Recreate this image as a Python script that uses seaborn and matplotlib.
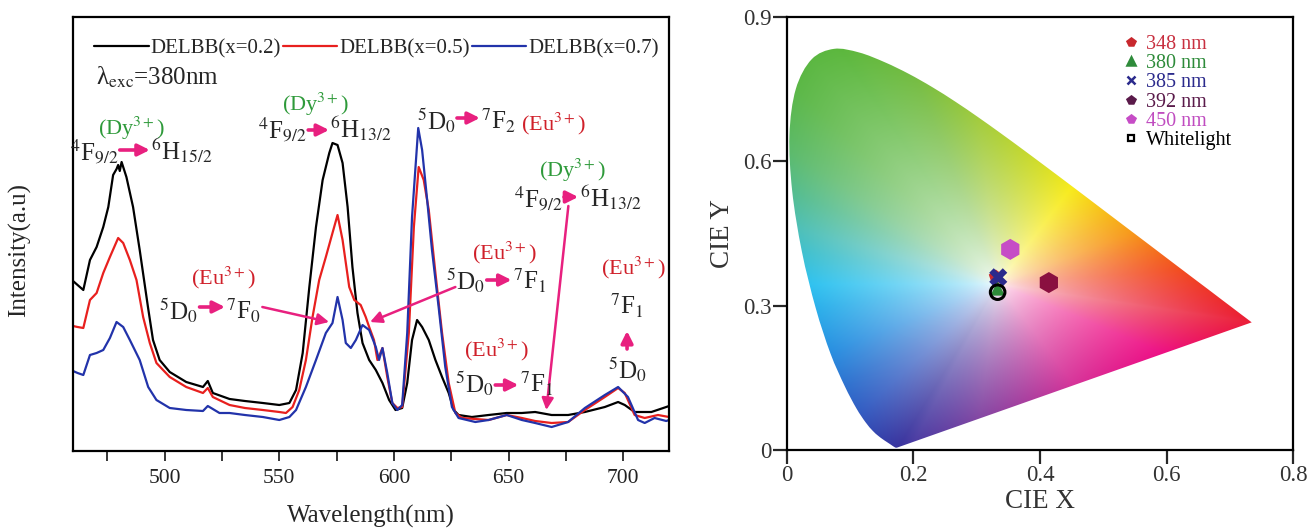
import numpy as np
import pandas as pd
import matplotlib
matplotlib.use("Agg")
import matplotlib.pyplot as plt
import seaborn as sns
from matplotlib.lines import Line2D
from matplotlib.patches import PathPatch
from matplotlib.path import Path

# ---------------- data: emission spectra (a.u.) ----------------
black_wl = [460, 462, 464.5, 467.4, 470.3, 473.2, 475.4, 477.5, 479, 479.7, 480.4, 481.2, 483.3, 486.2,
            489.1, 492.7, 494.9, 497.8, 502.2, 509.4, 516.7, 518.8, 521, 528.3, 535, 542.8, 550, 554.4,
            557.3, 560.2, 563.1, 566, 568.9, 571.8, 573.2, 575.4, 577.6, 579.8, 581.9, 584.1, 586.3,
            589.2, 592.1, 595, 597.9, 600.7, 603.6, 605.8, 607.9, 610.1, 612.3, 615.2, 618.1, 621,
            623.9, 626.1, 628.2, 634, 641.3, 649.2, 655.8, 661.6, 668.8, 676, 683.3, 692, 697.8, 700.7,
            705, 712.3, 718.8, 720]
black_I = [170, 166, 161, 191, 204, 224, 244, 276, 282, 286, 280, 289, 274, 244,
           201, 144, 111, 91, 79, 69, 64, 70, 58, 52, 50, 48, 46, 48,
           61, 98, 164, 224, 271, 298, 308, 306, 288, 244, 184, 138, 108,
           91, 81, 68, 51, 41, 43, 68, 111, 131, 124, 111, 91, 74,
           58, 41, 36, 34, 36, 38, 38, 39, 36, 36, 39, 44, 49, 46,
           39, 39, 44, 45]

red_wl = [460, 462, 464.5, 467.4, 470.3, 473.2, 476.1, 479.7, 481.9, 484.8, 487.7, 490.6, 493.5, 496.4,
          502.2, 509.4, 516.7, 518.8, 521, 528.3, 535, 542.8, 550, 552.9, 555.8, 558.7, 561.6, 564.5,
          567.4, 570.3, 573.2, 575.4, 577.6, 580.5, 582.7, 585.5, 587.7, 589.2, 591.3, 592.8, 595,
          597.1, 599.3, 601.5, 603.6, 606.5, 608.7, 610.8, 613, 615.2, 618.1, 621, 623.9, 626.8,
          629.7, 641.3, 649.2, 655.8, 661.6, 668.8, 676, 683.3, 692, 697.8, 700.7, 705, 709.4, 715.2, 720]
red_I = [125, 124, 123, 151, 158, 178, 194, 213, 208, 191, 171, 134, 108, 88,
         74, 64, 58, 63, 54, 46, 43, 41, 39, 38, 44, 61, 91, 134,
         171, 194, 218, 236, 211, 164, 151, 146, 134, 124, 111, 91, 103,
         74, 48, 43, 44, 118, 224, 284, 271, 241, 178, 118, 68, 38,
         33, 31, 36, 33, 30, 28, 29, 41, 54, 63, 58, 36, 33, 36, 34]

blue_wl = [460, 462, 464.5, 467.4, 470.3, 473.2, 476.1, 479, 481.9, 484.8, 489.1, 492.8, 496.4, 502.2,
           509.4, 516.7, 518.8, 523.9, 528.3, 535, 542.8, 550, 554.4, 557.3, 561.6, 566, 570.3, 573.2,
           575.4, 577.6, 579, 581.2, 583.4, 586.3, 589.2, 592.1, 593.5, 595, 597.1, 599.3, 601.5,
           603.6, 605.8, 607.9, 610.6, 612.3, 614.5, 616.6, 619.5, 622.4, 625.3, 628.2, 635.5, 641.3,
           649.2, 655.8, 661.6, 668.8, 676, 683.3, 692, 697.8, 702.1, 706.5, 709.4, 713.7, 718.8, 720]
blue_I = [80, 78, 76, 96, 98, 101, 113, 129, 124, 111, 91, 64, 51, 43,
          41, 40, 45, 38, 38, 36, 34, 31, 34, 41, 64, 91, 118, 128,
          154, 131, 108, 103, 111, 126, 121, 104, 91, 103, 78, 48, 41,
          46, 118, 234, 323, 301, 251, 201, 144, 84, 44, 33, 29, 31,
          36, 31, 28, 24, 29, 43, 56, 64, 54, 31, 28, 33, 30, 31]

series_labels = ["DELBB(x=0.2)", "DELBB(x=0.5)", "DELBB(x=0.7)"]

# ---------------- data: CIE 1931 spectral locus (380-700 nm) ----------------
locus_x = [0.1741, 0.1740, 0.1738, 0.1736, 0.1733, 0.1730, 0.1726, 0.1721, 0.1714, 0.1703, 0.1689,
           0.1669, 0.1644, 0.1611, 0.1566, 0.1510, 0.1440, 0.1355, 0.1241, 0.1096, 0.0913, 0.0687,
           0.0454, 0.0235, 0.0082, 0.0039, 0.0139, 0.0389, 0.0743, 0.1142, 0.1547, 0.1929, 0.2296,
           0.2658, 0.3016, 0.3373, 0.3731, 0.4087, 0.4441, 0.4788, 0.5125, 0.5448, 0.5752, 0.6029,
           0.6270, 0.6482, 0.6658, 0.6801, 0.6915, 0.7006, 0.7079, 0.7140, 0.7190, 0.7230, 0.7260,
           0.7283, 0.7300, 0.7311, 0.7320, 0.7327, 0.7334, 0.7344, 0.7347]
locus_y = [0.0050, 0.0050, 0.0049, 0.0049, 0.0048, 0.0048, 0.0048, 0.0048, 0.0051, 0.0058, 0.0069,
           0.0086, 0.0109, 0.0138, 0.0177, 0.0227, 0.0297, 0.0399, 0.0578, 0.0868, 0.1327, 0.2007,
           0.2950, 0.4127, 0.5384, 0.6548, 0.7502, 0.8120, 0.8338, 0.8262, 0.8059, 0.7816, 0.7543,
           0.7243, 0.6923, 0.6589, 0.6245, 0.5896, 0.5547, 0.5202, 0.4866, 0.4544, 0.4242, 0.3965,
           0.3725, 0.3514, 0.3340, 0.3197, 0.3083, 0.2993, 0.2920, 0.2859, 0.2809, 0.2770, 0.2740,
           0.2717, 0.2700, 0.2689, 0.2680, 0.2673, 0.2666, 0.2656, 0.2653]

# ---------------- data: chromaticity points ----------------
cie_labels = ["348 nm", "380 nm", "385 nm", "392 nm", "450 nm", "Whitelight"]
cie_x = [0.330, 0.333, 0.334, 0.414, 0.353, 0.333]
cie_y = [0.360, 0.336, 0.359, 0.348, 0.417, 0.328]

# edge colours of the printed diagram, by direction (deg) seen from the white point
edge_angle = [-180, -152, -129, -115, -112, -96, -60, -29, -10, 6, 27, 60, 95, 107, 117, 128, 140, 160, 180]
edge_rgb = [(0.18, 0.76, 0.94), (0.16, 0.56, 0.88), (0.20, 0.36, 0.76), (0.22, 0.20, 0.62),
            (0.30, 0.24, 0.64), (0.52, 0.28, 0.64), (0.84, 0.20, 0.60), (0.93, 0.06, 0.52),
            (0.92, 0.12, 0.20), (0.95, 0.30, 0.12), (0.97, 0.60, 0.10), (0.97, 0.92, 0.10),
            (0.64, 0.80, 0.24), (0.46, 0.74, 0.26), (0.36, 0.72, 0.24), (0.36, 0.72, 0.28),
            (0.36, 0.73, 0.42), (0.30, 0.75, 0.72), (0.18, 0.76, 0.94)]

# ---------------- style ----------------
sns.set_style("ticks")
plt.rcParams["font.family"] = ["Liberation Serif", "DejaVu Serif"]
plt.rcParams["mathtext.fontset"] = "stix"
plt.rcParams["axes.linewidth"] = 1.6

MAG = "#E8207F"
GREEN = "#2E9A3A"
EURED = "#D0202A"

fig = plt.figure(figsize=(13.11, 5.28), dpi=100)
ax = fig.add_axes([73 / 1311, 77 / 528, 596 / 1311, 434 / 528])
ax2 = fig.add_axes([787 / 1311, 78 / 528, 506 / 1311, 433 / 528])

# ---------------- left: spectra ----------------
sns.lineplot(x=black_wl, y=black_I, color="black", lw=1.6, ax=ax, label=series_labels[0], sort=False)
sns.lineplot(x=red_wl, y=red_I, color="#E8201E", lw=1.6, ax=ax, label=series_labels[1], sort=False)
sns.lineplot(x=blue_wl, y=blue_I, color="#2233AA", lw=1.6, ax=ax, label=series_labels[2], sort=False)

ax.set_xlim(460, 720)
ax.set_ylim(0, 434)
ax.set_yticks([])
ax.set_xticks([500, 550, 600, 650, 700])
ax.set_xticks([475, 525, 575, 625, 675], minor=True)
ax.tick_params(axis="x", which="both", direction="out", length=7, width=1.3, labelsize=15.5,
               labelcolor="#222222", pad=6)
for s in ax.spines.values():
    s.set_visible(True)
    s.set_color("black")
ax.set_xlabel("Wavelength(nm)", fontsize=18, labelpad=12)
ax.set_ylabel("Intensity(a.u)", fontsize=18)
ax.yaxis.set_label_coords(-0.07, 0.463)

leg = ax.legend(loc="upper left", bbox_to_anchor=(0.036, 0.95), ncol=3, frameon=False, fontsize=15,
                handlelength=2.6, handletextpad=0.1, columnspacing=0.1, borderpad=0, borderaxespad=0)

ax.text(470, 366, "λ$_{\\mathrm{exc}}$=380nm", fontsize=18, ha="left", va="baseline")

TFS = 18
AW = dict(arrowstyle="-|>,head_length=0.5,head_width=0.25", color=MAG, lw=2.6, shrinkA=0, shrinkB=0,
          mutation_scale=14)
LW = dict(arrowstyle="-|>,head_length=0.5,head_width=0.25", color=MAG, lw=1.8, shrinkA=0, shrinkB=0,
          mutation_scale=14)


def transition(left, right, xa, xb, ya, yb, gap=0.6):
    ax.text(xa - gap, yb, left, ha="right", va="baseline", fontsize=TFS)
    ax.annotate("", xy=(xb, ya), xytext=(xa, ya), arrowprops=AW)
    ax.text(xb + gap, yb, right, ha="left", va="baseline", fontsize=TFS)


# first Dy peak
ax.text(485.5, 323, r"(Dy$^{3+}$)", color=GREEN, fontsize=16, ha="center", va="center")
transition(r"$^{4}$F$_{9/2}$", r"$^{6}$H$_{15/2}$", 480.4, 493.5, 301, 291)
# second Dy peak
ax.text(566, 347, r"(Dy$^{3+}$)", color=GREEN, fontsize=16, ha="center", va="center")
transition(r"$^{4}$F$_{9/2}$", r"$^{6}$H$_{13/2}$", 562.6, 571.7, 321, 313)
# Eu 5D0-7F2
transition(r"$^{5}$D$_{0}$", r"$^{7}$F$_{2}$", 627.5, 637.5, 333, 321)
ax.text(655.5, 321, r"(Eu$^{3+}$)", color=EURED, fontsize=16, ha="left", va="baseline")
# right Dy
ax.text(677.8, 281, r"(Dy$^{3+}$)", color=GREEN, fontsize=16, ha="center", va="center")
transition(r"$^{4}$F$_{9/2}$", r"$^{6}$H$_{13/2}$", 674.2, 680.4, 254, 244)
ax.annotate("", xy=(666.5, 41), xytext=(676.1, 245), arrowprops=LW)
# Eu 5D0-7F0
ax.text(525.7, 173, r"(Eu$^{3+}$)", color=EURED, fontsize=16, ha="center", va="center")
transition(r"$^{5}$D$_{0}$", r"$^{7}$F$_{0}$", 515.2, 526.3, 144, 131)
ax.annotate("", xy=(571.7, 129), xytext=(542.6, 144), arrowprops=LW)
# Eu 5D0-7F1 (upper)
ax.text(648.3, 198, r"(Eu$^{3+}$)", color=EURED, fontsize=16, ha="center", va="center")
transition(r"$^{5}$D$_{0}$", r"$^{7}$F$_{1}$", 640.5, 651.3, 171, 161)
ax.annotate("", xy=(589.6, 129), xytext=(626.8, 164), arrowprops=LW)
# Eu 5D0-7F1 (lower)
ax.text(644.8, 101, r"(Eu$^{3+}$)", color=EURED, fontsize=16, ha="center", va="center")
transition(r"$^{5}$D$_{0}$", r"$^{7}$F$_{1}$", 644.2, 654.3, 66, 58)
# Eu vertical
ax.text(704.3, 183, r"(Eu$^{3+}$)", color=EURED, fontsize=16, ha="center", va="center")
ax.text(701.7, 136, r"$^{7}$F$_{1}$", fontsize=TFS, ha="center", va="baseline")
ax.annotate("", xy=(701.7, 120), xytext=(701.7, 102), arrowprops=AW)
ax.text(701.7, 72, r"$^{5}$D$_{0}$", fontsize=TFS, ha="center", va="baseline")

# ---------------- right: CIE diagram ----------------
P = np.column_stack([locus_x, locus_y])
n = len(P)
wx, wy = 0.333, 0.345

# boundary radius as a function of direction from the white point
line_t = np.linspace(0, 1, 80)[1:-1]
purple = P[-1] + (P[0] - P[-1]) * line_t[:, None]
bnd = np.vstack([P, purple])
b_ang = np.degrees(np.arctan2(bnd[:, 1] - wy, bnd[:, 0] - wx))
b_rad = np.hypot(bnd[:, 0] - wx, bnd[:, 1] - wy)
order = np.argsort(b_ang)
b_ang, b_rad = b_ang[order], b_rad[order]

gx = np.linspace(0, 0.8, 800)
gy = np.linspace(0, 0.9, 900)
XX, YY = np.meshgrid(gx, gy)
ang = np.degrees(np.arctan2(YY - wy, XX - wx))
rad = np.hypot(XX - wx, YY - wy)
rb = np.interp(ang, b_ang, b_rad, period=360)
frac = np.clip(rad / rb, 0, 1)
w = frac ** 0.62
er = np.array(edge_rgb)
edge = np.stack([np.interp(ang, edge_angle, er[:, c]) for c in range(3)], axis=-1)
rgb = 1 - w[..., None] * (1 - edge)
rgb = np.clip(rgb, 0, 1)

im = ax2.imshow(rgb, extent=[0, 0.8, 0, 0.9], origin="lower", aspect="auto",
                interpolation="bilinear", zorder=1)

# smooth closed outline through the locus points (Catmull-Rom as cubic Bezier), straight purple line
verts = [P[0]]
codes = [Path.MOVETO]
for i in range(n - 1):
    p0 = P[max(i - 1, 0)]
    p1 = P[i]
    p2 = P[i + 1]
    p3 = P[min(i + 2, n - 1)]
    verts += [p1 + (p2 - p0) / 6, p2 - (p3 - p1) / 6, p2]
    codes += [Path.CURVE4] * 3
verts += [P[0], P[0]]
codes += [Path.LINETO, Path.CLOSEPOLY]
outline = PathPatch(Path(verts, codes), transform=ax2.transData, facecolor="none", edgecolor="none")
ax2.add_patch(outline)
im.set_clip_path(outline)

styles = {
    "348 nm": dict(marker="p", color="#C8282E", s=110),
    "380 nm": dict(marker="^", color="#2E8B3A", s=110),
    "385 nm": dict(marker="X", color="#2B2A8C", s=170),
    "392 nm": dict(marker="h", color="#8A1040", s=230),
    "450 nm": dict(marker="h", color="#C64CC6", s=230),
}
for lab, xv, yv in zip(cie_labels, cie_x, cie_y):
    if lab == "Whitelight":
        sns.scatterplot(x=[xv], y=[yv], ax=ax2, marker="o", s=110, facecolors="none", edgecolor="black",
                        linewidth=2.2, zorder=5)
    else:
        st = styles[lab]
        sns.scatterplot(x=[xv], y=[yv], ax=ax2, marker=st["marker"], s=st["s"], color=st["color"],
                        edgecolor="none", zorder=4)

ax2.set_xlim(0, 0.8)
ax2.set_ylim(0, 0.9)
ax2.set_xticks([0, 0.2, 0.4, 0.6, 0.8])
ax2.set_xticklabels(["0", "0.2", "0.4", "0.6", "0.8"])
ax2.set_yticks([0, 0.3, 0.6, 0.9])
ax2.set_yticklabels(["0", "0.3", "0.6", "0.9"])
ax2.tick_params(direction="out", length=10, width=1.6, labelsize=16.5, labelcolor="#333333", pad=1)
for s in ax2.spines.values():
    s.set_visible(True)
    s.set_color("black")
ax2.set_xlabel("CIE X", fontsize=19.5, labelpad=2, color="#333333")
ax2.set_ylabel("CIE Y", fontsize=19.5, labelpad=6, color="#333333")

leg_colors = ["#C8282E", "#2E8B3A", "#2B2A8C", "#5A1A4A", "#C64CC6", "black"]
leg_text_colors = ["#C83040", "#2E8B3A", "#2B2A8C", "#5A1A4A", "#C04CC0", "black"]
leg_markers = ["p", "^", "x", "p", "p", "s"]
handles = []
for c, m in zip(leg_colors, leg_markers):
    if m == "s":
        handles.append(Line2D([], [], marker="s", linestyle="None", markerfacecolor="none",
                              markeredgecolor=c, markeredgewidth=1.6, markersize=5))
    else:
        handles.append(Line2D([], [], marker=m, linestyle="None", color=c, markeredgewidth=1.8,
                              markersize=6))
leg2 = ax2.legend(handles, cie_labels, loc="upper left", bbox_to_anchor=(0.668, 0.958), frameon=False,
                  fontsize=14.5, labelspacing=0.0, handletextpad=0.45, handlelength=0.6, borderpad=0,
                  borderaxespad=0)
for t, c in zip(leg2.get_texts(), leg_text_colors):
    t.set_color(c)

fig.savefig("out.png", dpi=100, facecolor="white")
